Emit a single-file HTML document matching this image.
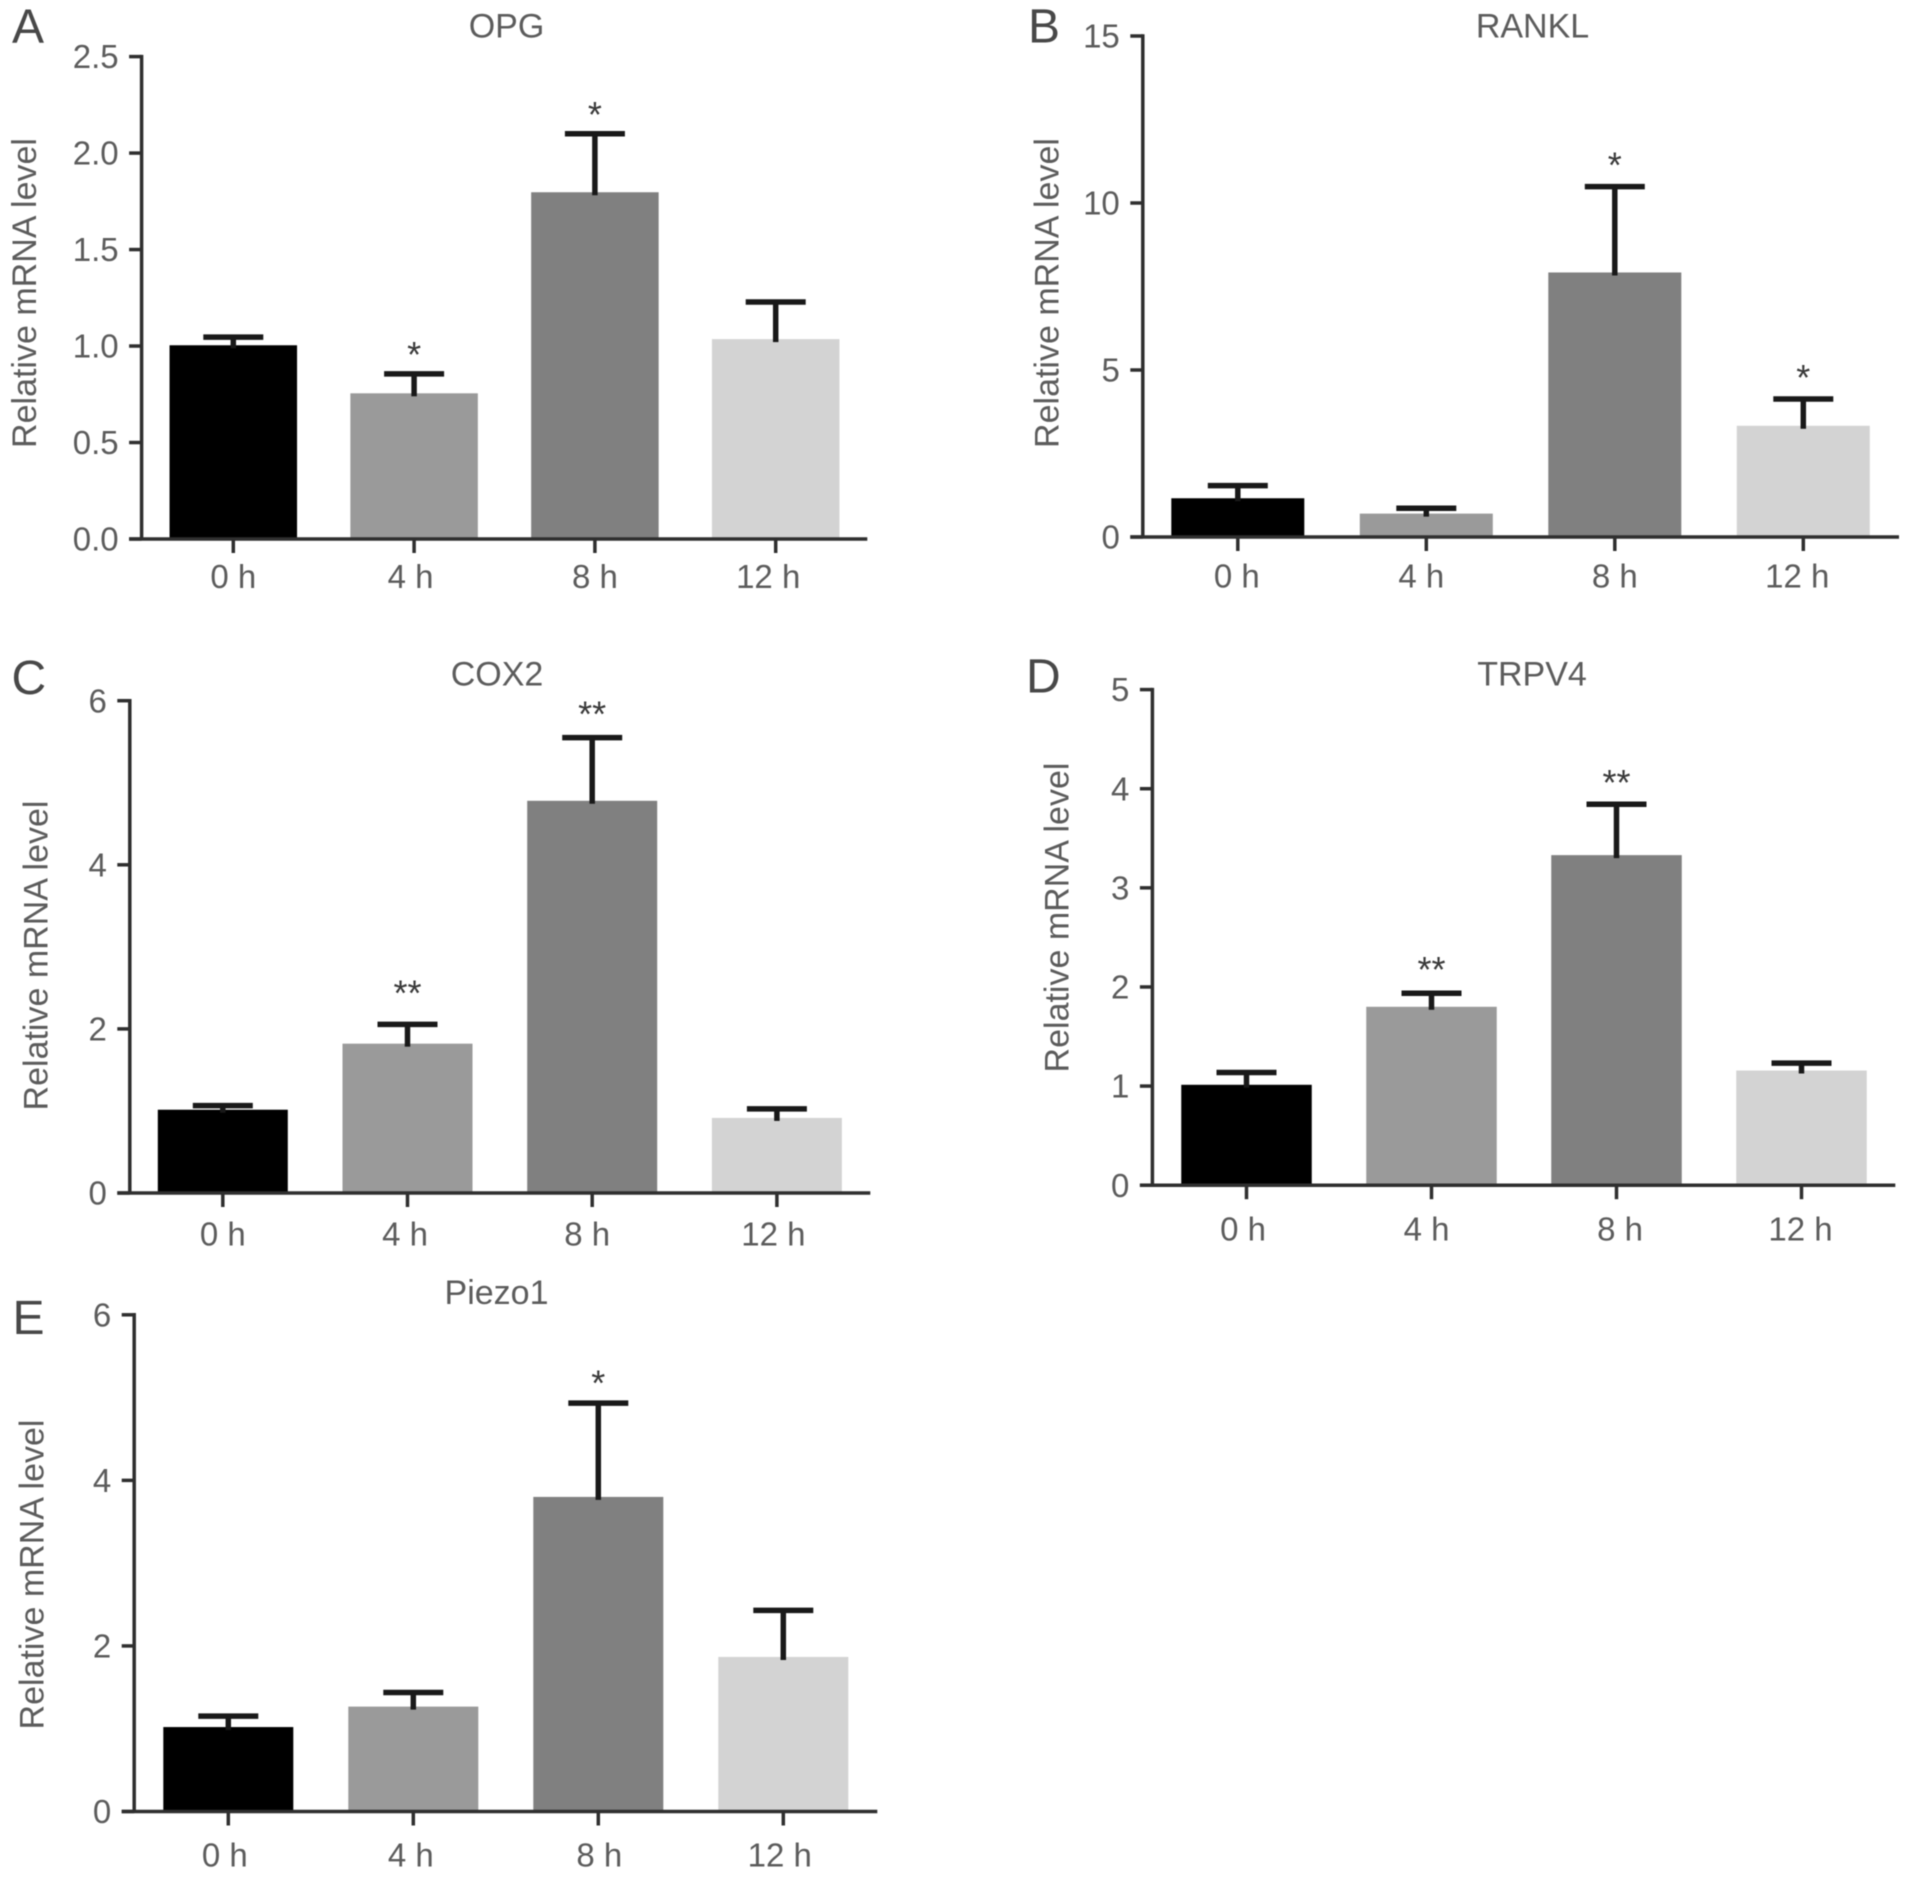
<!DOCTYPE html>
<html lang="en">
<head>
<meta charset="utf-8">
<title>Relative mRNA levels over time</title>
<style>
  html, body { margin: 0; padding: 0; background: #fff; }
  #figure { display: block; width: 1913px; height: 1879px; background: #fff; }
  #figure text { font-family: "Liberation Sans", Arial, sans-serif; fill: #5c5c5c; }
  #figure .panel-letter { fill: #484848; }
  #figure .star { fill: #3a3a3a; }
  #marks { filter: blur(0.6px); }
</style>
</head>
<body>
<svg id="figure" xmlns="http://www.w3.org/2000/svg" width="1913" height="1879" viewBox="0 0 1913 1879">
  <g id="marks"></g>
</svg>
<script>
const categories = ['0 h', '4 h', '8 h', '12 h'];

const opgMeans = [1.004, 0.755, 1.797, 1.036];
const opgErrors = [0.042, 0.101, 0.303, 0.192];
const opgStars = ['', '*', '*', ''];
const opgTicks = [0, 0.5, 1, 1.5, 2, 2.5];
const opgTickLabels = ['0.0', '0.5', '1.0', '1.5', '2.0', '2.5'];

const ranklMeans = [1.16, 0.70, 7.92, 3.33];
const ranklErrors = [0.38, 0.16, 2.57, 0.80];
const ranklStars = ['', '', '*', '*'];
const ranklTicks = [0, 5, 10, 15];
const ranklTickLabels = ['0', '5', '10', '15'];

const cox2Means = [1.015, 1.82, 4.78, 0.915];
const cox2Errors = [0.05, 0.235, 0.77, 0.11];
const cox2Stars = ['', '**', '**', ''];
const cox2Ticks = [0, 2, 4, 6];
const cox2TickLabels = ['0', '2', '4', '6'];

const trpv4Means = [1.013, 1.80, 3.33, 1.157];
const trpv4Errors = [0.124, 0.136, 0.513, 0.074];
const trpv4Stars = ['', '**', '**', ''];
const trpv4Ticks = [0, 1, 2, 3, 4, 5];
const trpv4TickLabels = ['0', '1', '2', '3', '4', '5'];

const piezo1Means = [1.02, 1.267, 3.80, 1.867];
const piezo1Errors = [0.132, 0.171, 1.133, 0.563];
const piezo1Stars = ['', '', '*', ''];
const piezo1Ticks = [0, 2, 4, 6];
const piezo1TickLabels = ['0', '2', '4', '6'];

const barColors = ['#000000', '#9a9a9a', '#808080', '#d3d3d3'];
const SVG_NS = 'http://www.w3.org/2000/svg';
const AXIS_COLOR = '#2f2f2f';
const ERROR_COLOR = '#191919';
const TICK_FONT = 33;

const panels = [
  { key: 'opg', letter: 'A', title: 'OPG', means: opgMeans, errors: opgErrors, stars: opgStars, ticks: opgTicks, labels: opgTickLabels,
    axisX: 141.6, y0: 539, yTop: 56.6, xEnd: 867.3, first: 233.3, step: 180.8, barW: 127.5,
    titleX: 506.5, titleY: 25.6, letterX: 12, letterY: 25.5, yTitleX: 24.6, yTitleY: 293, xLabelDy: 37.5,
    labelNudge: [0, -3.5, 0, -7.5], starGaps: [0, 28, 28, 0] },
  { key: 'rankl', letter: 'B', title: 'RANKL', means: ranklMeans, errors: ranklErrors, stars: ranklStars, ticks: ranklTicks, labels: ranklTickLabels,
    axisX: 1142.8, y0: 537, yTop: 36, xEnd: 1899, first: 1237.8, step: 188.5, barW: 133,
    titleX: 1532.5, titleY: 25.6, letterX: 1028, letterY: 25.5, yTitleX: 1047, yTitleY: 293, xLabelDy: 39,
    labelNudge: [-1, -5, 0, -6], starGaps: [0, 0, 30, 30] },
  { key: 'cox2', letter: 'C', title: 'COX2', means: cox2Means, errors: cox2Errors, stars: cox2Stars, ticks: cox2Ticks, labels: cox2TickLabels,
    axisX: 129.8, y0: 1193, yTop: 700.7, xEnd: 870.3, first: 222.8, step: 184.7, barW: 130,
    titleX: 497, titleY: 673.6, letterX: 11.5, letterY: 677, yTitleX: 36, yTitleY: 955.5, xLabelDy: 41,
    labelNudge: [0, -2.5, -5, -3.5], starGaps: [0, 40, 32, 0] },
  { key: 'trpv4', letter: 'D', title: 'TRPV4', means: trpv4Means, errors: trpv4Errors, stars: trpv4Stars, ticks: trpv4Ticks, labels: trpv4TickLabels,
    axisX: 1152.4, y0: 1185.2, yTop: 689.6, xEnd: 1895.3, first: 1246.5, step: 185, barW: 130.5,
    titleX: 1532, titleY: 673.6, letterX: 1026, letterY: 675.5, yTitleX: 1057, yTitleY: 917.5, xLabelDy: 43.7,
    labelNudge: [-3.5, -5, 3.5, -1], starGaps: [0, 32.5, 30.5, 0] },
  { key: 'piezo1', letter: 'E', title: 'Piezo1', means: piezo1Means, errors: piezo1Errors, stars: piezo1Stars, ticks: piezo1Ticks, labels: piezo1TickLabels,
    axisX: 134.2, y0: 1811.5, yTop: 1314.8, xEnd: 877.3, first: 228.3, step: 185, barW: 130,
    titleX: 496.5, titleY: 1292, letterX: 12.5, letterY: 1317, yTitleX: 32, yTitleY: 1574.5, xLabelDy: 43.5,
    labelNudge: [-3.5, -2.5, 1, -3.5], starGaps: [0, 0, 28.7, 0] }
];

function make(parent, tag, attrs, content) {
  const el = document.createElementNS(SVG_NS, tag);
  for (const k in attrs) el.setAttribute(k, attrs[k]);
  if (content !== undefined) el.textContent = content;
  parent.appendChild(el);
  return el;
}

function centeredText(parent, x, yCenter, size, anchor, content, cls) {
  const attrs = { x: x, y: yCenter + size * 0.35, 'font-size': size, 'text-anchor': anchor };
  if (cls) attrs['class'] = cls;
  return make(parent, 'text', attrs, content);
}

function drawPanel(p) {
  const root = document.getElementById('marks');
  const yMax = p.ticks[p.ticks.length - 1];
  const yScale = v => p.y0 - (v / yMax) * (p.y0 - p.yTop);
  const xScale = i => p.first + i * p.step;

  const g = make(root, 'g', {});
  
  

  const letter = make(g, 'text', { x: p.letterX, y: p.letterY + 17, 'font-size': 48, 'class': 'panel-letter' }, p.letter);
  
  

  const title = centeredText(g, p.titleX, p.titleY, 34, 'middle', p.title);
  
  

  const yTitle = make(g, 'text', {
    x: p.yTitleX + 11.5, y: p.yTitleY, 'font-size': 34, 'text-anchor': 'middle',
    transform: 'rotate(-90 ' + (p.yTitleX + 11.5) + ' ' + p.yTitleY + ')'
  }, 'Relative mRNA level');
  
  

  p.means.forEach((m, i) => {
    const cx = xScale(i);
    const top = yScale(m);
    const bar = make(g, 'rect', { x: cx - p.barW / 2, y: top, width: p.barW, height: p.y0 - top, fill: barColors[i] });
    
    
  });

  const yAxis = make(g, 'line', { x1: p.axisX, x2: p.axisX, y1: p.yTop - 1.75, y2: p.y0, stroke: AXIS_COLOR, 'stroke-width': 3.5 });
  
  

  const xAxis = make(g, 'line', { x1: p.axisX - 12.5, x2: p.xEnd, y1: p.y0, y2: p.y0, stroke: AXIS_COLOR, 'stroke-width': 3.5 });
  
  

  p.ticks.forEach((t, i) => {
    const y = yScale(t);
    const tick = make(g, 'line', { x1: p.axisX - 12.5, x2: p.axisX, y1: y, y2: y, stroke: AXIS_COLOR, 'stroke-width': 3.5 });
    
    
    const label = centeredText(g, p.axisX - 23, y, TICK_FONT, 'end', p.labels[i]);
    
    
  });

  categories.forEach((c, i) => {
    const cx = xScale(i);
    const tick = make(g, 'line', { x1: cx, x2: cx, y1: p.y0, y2: p.y0 + 14, stroke: AXIS_COLOR, 'stroke-width': 3.5 });
    
    
    const label = centeredText(g, cx + p.labelNudge[i], p.y0 + p.xLabelDy, TICK_FONT, 'middle', c);
    
    
  });

  p.means.forEach((m, i) => {
    const cx = xScale(i);
    const top = yScale(m);
    const errTop = yScale(m + p.errors[i]);
    const stem = make(g, 'line', { x1: cx, x2: cx, y1: top + 3, y2: errTop, stroke: ERROR_COLOR, 'stroke-width': 5.5 });
    
    
    const cap = make(g, 'line', { x1: cx - 30, x2: cx + 30, y1: errTop, y2: errTop, stroke: ERROR_COLOR, 'stroke-width': 5.5 });
    
    
    if (p.stars[i]) {
      const star = make(g, 'text', { x: cx, y: errTop - p.starGaps[i] + 21, 'font-size': 36, 'text-anchor': 'middle', 'class': 'star' }, p.stars[i]);
      
      
    }
  });
}

panels.forEach(drawPanel);
</script>
</body>
</html>
